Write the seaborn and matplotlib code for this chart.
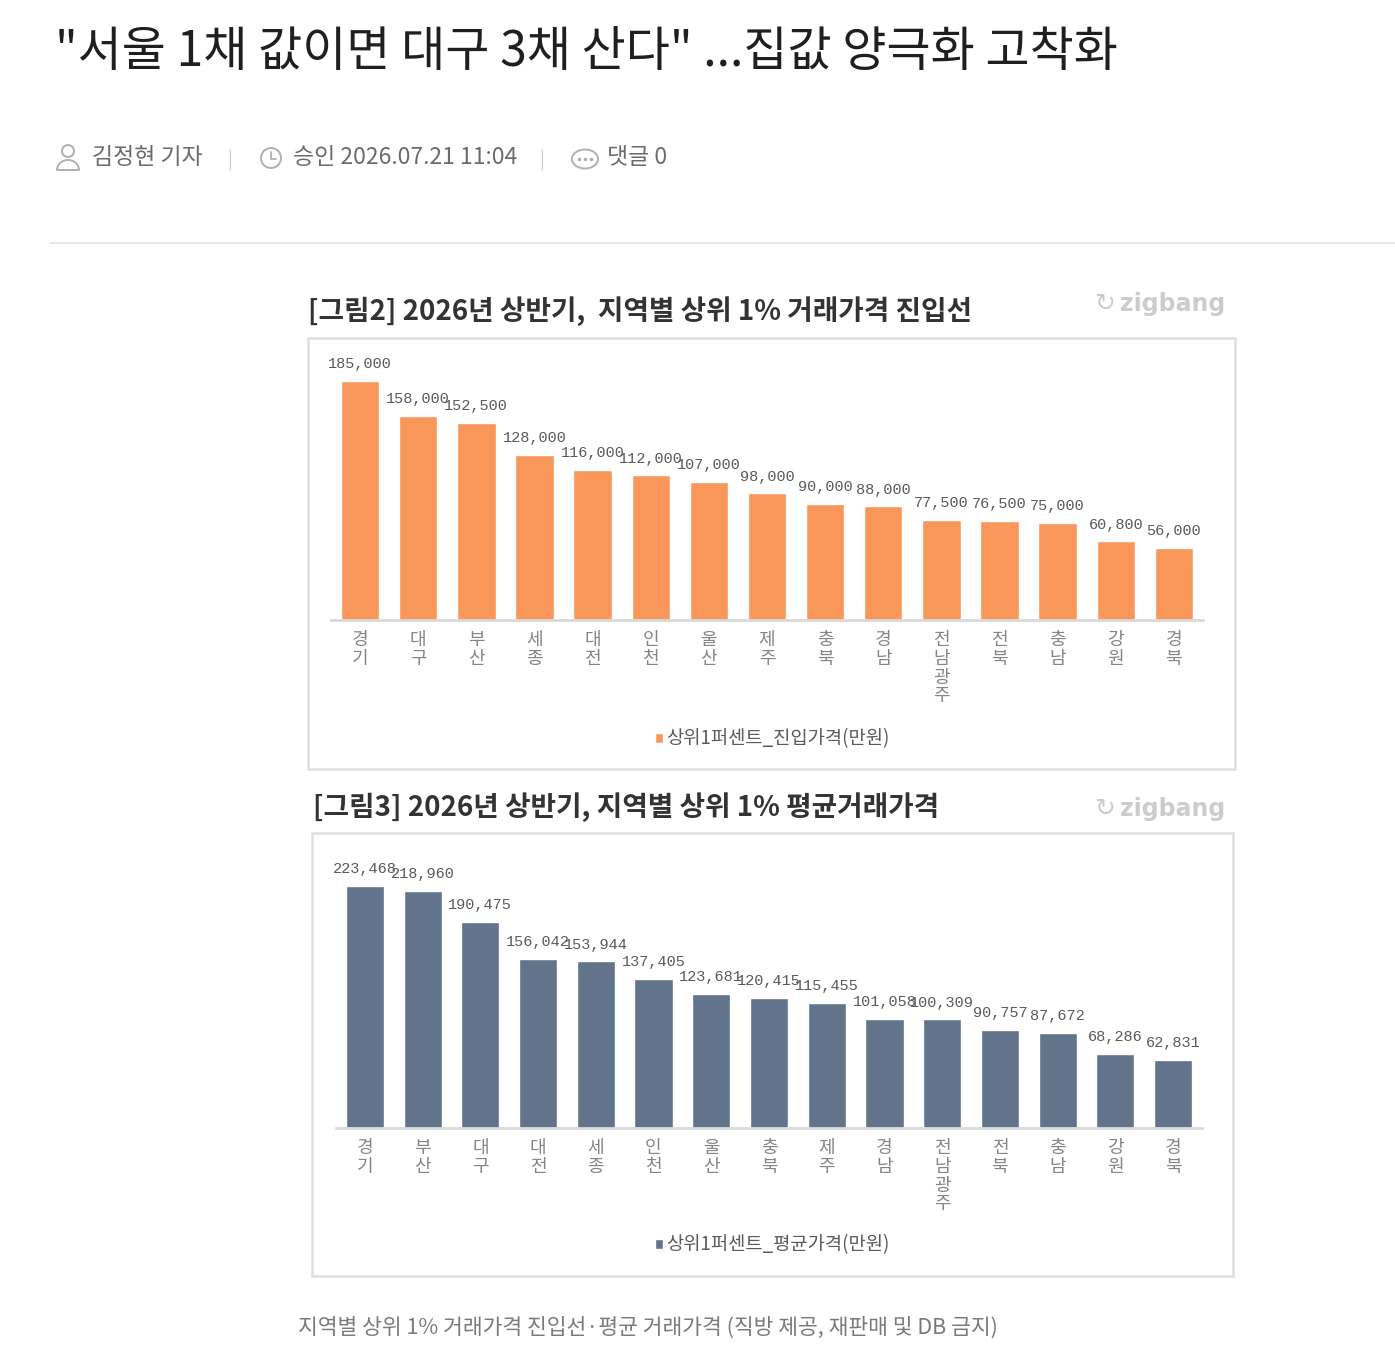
import matplotlib
matplotlib.use("Agg")
import matplotlib.pyplot as plt
import seaborn as sns
from matplotlib.patches import Rectangle, Circle, Arc, Ellipse, Patch
from matplotlib.font_manager import FontProperties

# data
entry_regions = ['경기', '대구', '부산', '세종', '대전', '인천', '울산', '제주',
                 '충북', '경남', '전남광주', '전북', '충남', '강원', '경북']
entry_price = [185000, 158000, 152500, 128000, 116000, 112000, 107000, 98000,
               90000, 88000, 77500, 76500, 75000, 60800, 56000]

avg_regions = ['경기', '부산', '대구', '대전', '세종', '인천', '울산', '충북',
               '제주', '경남', '전남광주', '전북', '충남', '강원', '경북']
avg_price = [223468, 218960, 190475, 156042, 153944, 137405, 123681, 120415,
             115455, 101058, 100309, 90757, 87672, 68286, 62831]

headline = '"서울 1채 값이면 대구 3채 산다" ...집값 양극화 고착화'
title_top = '[그림2] 2026년 상반기,  지역별 상위 1% 거래가격 진입선'
title_bottom = '[그림3] 2026년 상반기, 지역별 상위 1% 평균거래가격'
legend_top = '상위1퍼센트_진입가격(만원)'
legend_bottom = '상위1퍼센트_평균가격(만원)'
caption = '지역별 상위 1% 거래가격 진입선·평균 거래가격 (직방 제공, 재판매 및 DB 금지)'

sns.set_style("white")
plt.rcParams['font.family'] = ['Noto Sans CJK KR', 'DejaVu Sans']

W, H = 1395, 1368
fig = plt.figure(figsize=(W / 100, H / 100), dpi=100)

# background axes in pixel coords for page decoration
bg = fig.add_axes([0, 0, 1, 1])
bg.set_xlim(0, W)
bg.set_ylim(H, 0)
bg.axis('off')

bg.text(55, 52, headline, fontsize=34.5, color='#1f1f1f', va='center', ha='left')

meta_c = '#6b6b6b'
icon_c = '#b0b0b0'
# person icon
bg.add_patch(Circle((68, 151), 6, fill=False, ec=icon_c, lw=1.4))
bg.add_patch(Arc((68, 170), 22, 20, theta1=180, theta2=360, ec=icon_c, lw=1.4))
bg.plot([57, 79], [170, 170], color=icon_c, lw=1.4)
bg.text(92, 158, '김정현 기자', fontsize=16.5, color=meta_c, va='center')
bg.text(230, 160, '|', fontsize=13, color='#c8c8c8', va='center', ha='center')
# clock icon
bg.add_patch(Circle((271, 158), 10, fill=False, ec=icon_c, lw=1.4))
bg.plot([271, 271, 276], [152, 159, 159], color=icon_c, lw=1.3)
bg.text(293, 158, '승인 2026.07.21 11:04', fontsize=16.5, color=meta_c, va='center')
bg.text(542, 160, '|', fontsize=13, color='#c8c8c8', va='center', ha='center')
# comment icon
bg.add_patch(Ellipse((585, 159), 26, 19, fill=False, ec=icon_c, lw=1.4))
bg.plot([579, 585, 591], [159, 159, 159], ls='none', marker='o', ms=1.6, color=icon_c)
bg.text(607, 158, '댓글 0', fontsize=16.5, color=meta_c, va='center')

bg.plot([50, 1395], [243, 243], color='#e3e3e3', lw=1.2)

# chart frames and titles
frame_c = '#dedede'
bg.add_patch(Rectangle((308, 338), 927, 431, fill=False, ec=frame_c, lw=1.8))
bg.add_patch(Rectangle((312, 833), 921, 443, fill=False, ec=frame_c, lw=1.8))
bg.text(308, 311, title_top, fontsize=20, weight='bold', color='#333333', va='center')
bg.text(313, 807, title_bottom, fontsize=20, weight='bold', color='#333333', va='center')
for y in (304, 809):
    bg.text(1225, y, 'zigbang', fontsize=17, weight='bold', color='#cccccc',
            va='center', ha='right', family='DejaVu Sans')
    bg.text(1105, y, '↻', fontsize=18, color='#cccccc', va='center', ha='center',
            family='DejaVu Sans')

bg.text(298, 1328, caption, fontsize=15.5, color='#7a7a7a', va='center')


def px_axes(left, top, right, bottom):
    return fig.add_axes([left / W, 1 - bottom / H, (right - left) / W, (bottom - top) / H])


def draw_bars(ax, regions, values, color, ymax):
    sns.barplot(x=regions, y=values, color=color, saturation=1, width=0.66, ax=ax)
    ax.set_xlim(-0.5, len(regions) - 0.5)
    ax.set_ylim(0, ymax)
    ax.patch.set_alpha(0)
    for s in ('top', 'left', 'right'):
        ax.spines[s].set_visible(False)
    ax.spines['bottom'].set_color('#d9d9d9')
    ax.spines['bottom'].set_linewidth(2)
    ax.set_yticks([])
    ax.set_xticks(range(len(regions)))
    ax.set_xticklabels(['\n'.join(r) for r in regions], fontsize=13,
                       color='#858585', linespacing=1.05, va='top')
    ax.tick_params(axis='x', length=0, pad=8)
    ax.bar_label(ax.containers[0], labels=[f'{v:,}' for v in values], padding=7,
                 fontsize=11, family='Liberation Mono', color='#5a5a5a')


orange = '#F9975A'
slate = '#61748B'

ax1 = px_axes(331, 620 - 210 * 1.292, 1203, 620)
draw_bars(ax1, entry_regions, entry_price, orange, 210000)

ax2 = px_axes(336, 1128 - 240 * 1.083, 1202, 1128)
draw_bars(ax2, avg_regions, avg_price, slate, 240000)

leg_font = FontProperties(family='Noto Sans CJK KR', size=13.5)
for color, label, y in ((orange, legend_top, 739), (slate, legend_bottom, 1245)):
    fig.legend(handles=[Patch(facecolor=color, label=label)], loc='center',
               bbox_to_anchor=(772 / W, 1 - y / H), frameon=False, prop=leg_font,
               handlelength=0.45, handleheight=0.45, handletextpad=0.15,
               labelcolor='#5a5a5a')

fig.savefig('out.png', dpi=100)
